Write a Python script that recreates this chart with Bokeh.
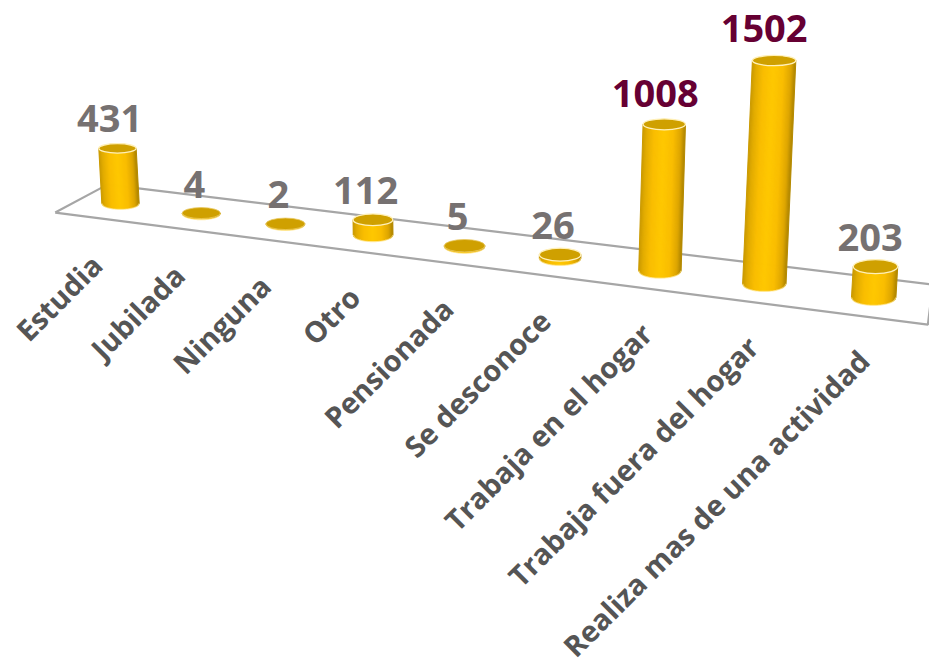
import numpy as np
from bokeh.plotting import figure
from bokeh.embed import file_html
from bokeh.resources import INLINE
from bokeh.core.properties import value as fixed

categories = ["Estudia", "Jubilada", "Ninguna", "Otro", "Pensionada", "Se desconoce",
              "Trabaja en el hogar", "Trabaja fuera del hogar", "Realiza mas de una actividad"]
values = [431, 4, 2, 112, 5, 26, 1008, 1502, 203]

W, H = 929, 669
K = 0.01987


def persp(i):
    return 1 - K * i


def project(i, d=0.0, v=0.0):
    w = persp(i)
    x = (120 + 76.8 * i + d * (-25 + 2.7 * i) + v * (-0.007 + 0.0018 * i)) / w
    y = (203 + 5.85 * i + d * (14.24 + 0.28 * i) - 0.128 * v) / w
    return x, y


def ramp(t):
    stops = [-1.0, -0.8, -0.45, 0.0, 0.45, 0.8, 1.0]
    r = [200, 226, 250, 255, 250, 222, 176]
    g = [152, 172, 190, 200, 190, 166, 134]
    b = [0, 0, 0, 0, 0, 0, 0]
    return "#%02x%02x%02x" % (int(np.interp(t, stops, r)), int(np.interp(t, stops, g)), int(np.interp(t, stops, b)))


p = figure(width=W, height=H, x_range=(0, W), y_range=(H, 0),
           output_backend="svg", toolbar_location=None, min_border=0)
p.axis.visible = False
p.grid.visible = False
p.outline_line_color = None
p.background_fill_color = "#ffffff"

# floor
corners = [project(-0.5, 1), project(-0.5, -1), project(8.5, -1), project(8.5, 1), project(-0.5, 1)]
p.line([c[0] for c in corners], [c[1] for c in corners], line_color="#a6a6a6", line_width=2.2)

# cylinders
ts = np.linspace(-1, 1, 41)
for i, v in enumerate(values):
    bx, by = project(i)
    tx, ty = project(i, 0, v)
    rx = 18.7 / persp(i)
    ryb = (10.5 + 0.5 * i) / 2
    ryt = (10.5 + 0.5 * i - 0.0025 * v) / 2
    xs, ys, cs = [], [], []
    for a, c in zip(ts[:-1], ts[1:]):
        sa, sc = np.sqrt(1 - a * a), np.sqrt(1 - c * c)
        xs.append([bx + rx * a, bx + rx * c, tx + rx * c, tx + rx * a])
        ys.append([by + ryb * sa, by + ryb * sc, ty + ryt * sc, ty + ryt * sa])
        cs.append(ramp((a + c) / 2))
    p.patches(xs, ys, fill_color=cs, line_color=cs, line_width=1.0)
    # soft rim below the base
    rim = np.linspace(-1, 1, 31)
    p.line(bx + rx * rim, by + (ryb + 0.6) * np.sqrt(1 - rim * rim), line_color="#ffe58a", line_width=1.2, line_alpha=0.7)
    # cap
    p.ellipse([tx], [ty], width=2 * rx, height=2 * ryt, fill_color="#cfa000",
              line_color="#fff0b8" if v > 20 else "#e8c860", line_width=1.3 if v > 20 else 0.8)

# value labels
lx, ly, lc, lt = [], [], [], []
for i, v in enumerate(values):
    tx, ty = project(i, 0, v)
    lx.append(tx - 7 - 0.002 * v + (2 if v == 203 else 0))
    ly.append(ty - 29 - 0.002 * v)
    lc.append("#660033" if v >= 1000 else "#767171")
    lt.append(str(v))
p.text(lx, ly, text=lt, text_color=lc, text_font=fixed("Open Sans"), text_font_style="bold",
       text_font_size="38px", text_align="center", text_baseline="alphabetic")

# category labels
cx, cy = [], []
for i in range(len(categories)):
    x, y = project(i)
    cx.append(x - 24 + 1.75 * i)
    cy.append(y + 56 + 0.2 * i)
p.text(cx, cy, text=categories, angle=np.pi / 4, text_color="#555555", text_font=fixed("Open Sans"),
       text_font_style="bold", text_font_size="29px", text_align="right", text_baseline="middle")

open("out.html", "w").write(file_html(p, INLINE))
